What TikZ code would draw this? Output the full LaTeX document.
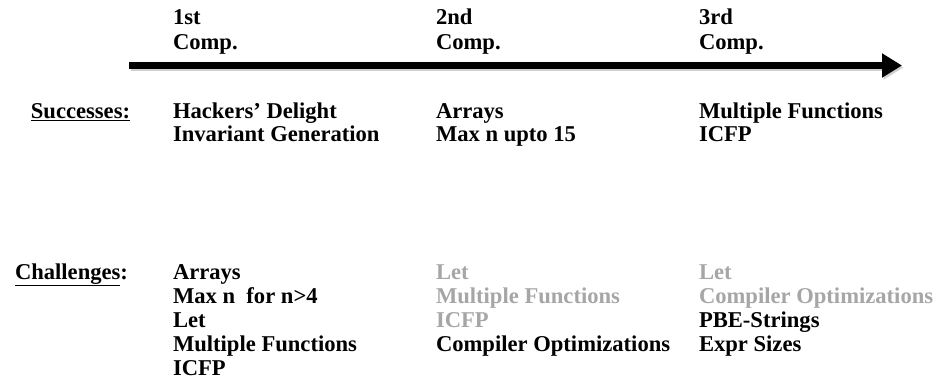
\documentclass[tikz,border=0pt]{standalone}
\usepackage{fontspec}
\setmainfont{Liberation Serif}
\usetikzlibrary{arrows.meta}
\definecolor{fadegray}{RGB}{166,166,166}
\definecolor{shadowgray}{RGB}{150,150,150}
\begin{document}
\begin{tikzpicture}[x=1pt,y=-1pt,
  txt/.style={anchor=base west,inner sep=0pt,outer sep=0pt,font=\fontsize{22.6}{24}\selectfont\bfseries},
  lbl/.style={anchor=base,inner sep=0pt,outer sep=0pt,font=\fontsize{22.6}{24}\selectfont\bfseries},
  faded/.style={txt,text=fadegray},
  timeline/.style={line width=7pt,-{Triangle[length=20pt,width=23pt]}}]
\useasboundingbox (0,0) rectangle (939,386);
% header
\node[txt] (h1a) at (173,24.5) {1st};
\node[txt] (h1b) at (173,49.5) {Comp.};
\node[txt] (h2a) at (436,24.5) {2nd};
\node[txt] (h2b) at (436,49.5) {Comp.};
\node[txt] (h3a) at (699,24.5) {3rd};
\node[txt] (h3b) at (699,49.5) {Comp.};
% arrow
\coordinate (as) at (129,65.5);
\coordinate (ae) at (902,65.5);
\coordinate (ass) at (130.5,67.5);
\coordinate (aes) at (903.5,67.5);
\draw[timeline,draw=shadowgray,fill=shadowgray,opacity=0.45] (ass) -- (aes);
\draw[timeline] (as) -- (ae);
% successes
\node[lbl] (succ) at (80.5,118.3) {\underline{Successes:}};
\node[txt] (s1a) at (173,118.3) {Hackers’ Delight};
\node[txt] (s1b) at (173,141.7) {Invariant Generation};
\node[txt] (s2a) at (436,118.3) {Arrays};
\node[txt] (s2b) at (436,141.7) {Max n upto 15};
\node[txt] (s3a) at (699,118.3) {Multiple Functions};
\node[txt] (s3b) at (699,141.7) {ICFP};
% challenges
\node[lbl] (chal) at (71.5,279) {\underline{Challenges}:};
\node[txt] (c1a) at (173,279) {Arrays};
\node[txt] (c1b) at (173,303) {Max n\ \ for n>4};
\node[txt] (c1c) at (173,327) {Let};
\node[txt] (c1d) at (173,351) {Multiple Functions};
\node[txt] (c1e) at (173,375) {ICFP};
\node[faded] (c2a) at (436,279) {Let};
\node[faded] (c2b) at (436,303) {Multiple Functions};
\node[faded] (c2c) at (436,327) {ICFP};
\node[txt] (c2d) at (436,351) {Compiler Optimizations};
\node[faded] (c3a) at (699,279) {Let};
\node[faded] (c3b) at (699,303) {Compiler Optimizations};
\node[txt] (c3c) at (699,327) {PBE-Strings};
\node[txt] (c3d) at (699,351) {Expr Sizes};
\end{tikzpicture}
\end{document}
